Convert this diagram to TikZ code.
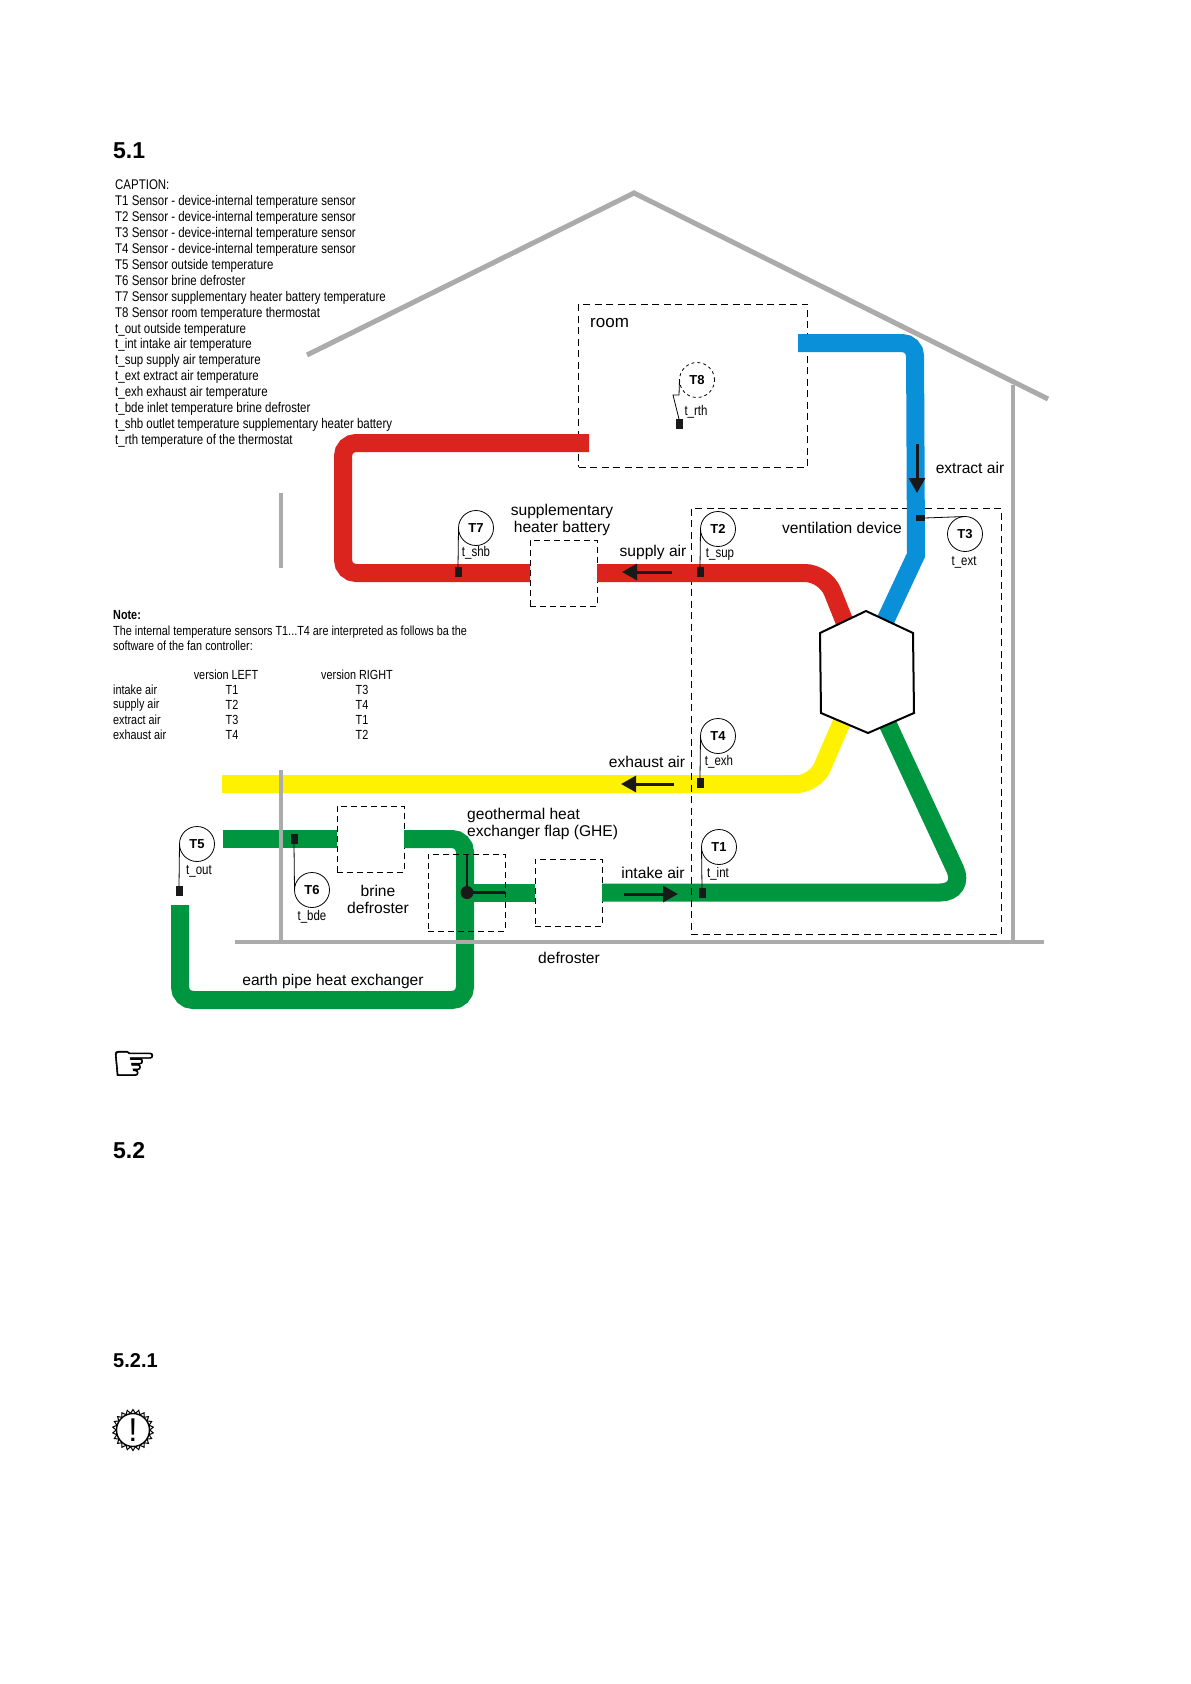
\documentclass[tikz,border=0pt]{standalone}
\usepackage{fontspec}
\usepackage{xcolor}
\setmainfont{Liberation Sans}
\newfontfamily\narrowfont[FakeStretch=0.82]{Liberation Sans}
\newfontfamily\symbolfont[FakeBold=1.2]{DejaVu Sans}
\usetikzlibrary{positioning, arrows.meta, shapes.geometric}

\definecolor{ductred}{HTML}{DC241F}
\definecolor{ductblue}{HTML}{0A8FD9}
\definecolor{ductyellow}{HTML}{FFF200}
\definecolor{ductgreen}{HTML}{009640}
\definecolor{wallgray}{HTML}{ABABAB}

\begin{document}
\begin{tikzpicture}[x=1pt, y=-1pt,
  duct/.style={line width=18pt, rounded corners=13pt},
  wall/.style={line width=5pt, wallgray},
  wallthin/.style={line width=3.5pt, wallgray},
  zonebox/.style={draw, dash pattern=on 7pt off 4.5pt, line width=0.9pt, inner sep=0pt, outer sep=0pt},
  partbox/.style={draw, dash pattern=on 6pt off 4pt, line width=1pt, inner sep=0pt, outer sep=0pt},
  sensor/.style={draw, circle, minimum size=35pt, inner sep=0pt, outer sep=0pt, line width=0.8pt,
              font=\fontsize{13}{13}\selectfont\bfseries},
  pad/.style={fill=black!90, minimum width=7pt, minimum height=10pt, inner sep=0pt, outer sep=0pt},
  leader/.style={line width=0.8pt},
  flow/.style={line width=3pt, black!90, -{Triangle[length=15pt,width=16pt]}},
  flapline/.style={line width=2.6pt, black!90},
  tag/.style={font=\narrowfont\fontsize{14}{14}\selectfont, inner sep=0pt},
  airlabel/.style={font=\fontsize{15.6}{17.5}\selectfont, inner sep=0pt, align=center},
  listtext/.style={font=\narrowfont\fontsize{14}{15.9}\selectfont, inner sep=0pt, align=left},
  tabletext/.style={font=\narrowfont\fontsize{13.2}{15}\selectfont, inner sep=0pt},
  heading/.style={font=\fontsize{23}{23}\selectfont\bfseries, inner sep=0pt, anchor=west}
]
  \useasboundingbox (0,0) rectangle (1191,1684);

  \node[heading] (head51) at (113,151) {5.1};
  \node[heading] (head52) at (113,1151) {5.2};
  \node[heading, font=\fontsize{20}{20}\selectfont\bfseries] (head521) at (113,1361) {5.2.1};

  \node[listtext, anchor=north west] (captionlist) at (115,180) {CAPTION:\\
    T1 Sensor - device-internal temperature sensor\\
    T2 Sensor - device-internal temperature sensor\\
    T3 Sensor - device-internal temperature sensor\\
    T4 Sensor - device-internal temperature sensor\\
    T5 Sensor outside temperature\\
    T6 Sensor brine defroster\\
    T7 Sensor supplementary heater battery temperature\\
    T8 Sensor room temperature thermostat\\
    t\_out outside temperature\\
    t\_int intake air temperature\\
    t\_sup supply air temperature\\
    t\_ext extract air temperature\\
    t\_exh exhaust air temperature\\
    t\_bde inlet temperature brine defroster\\
    t\_shb outlet temperature supplementary heater battery\\
    t\_rth temperature of the thermostat};

  \node[tabletext, anchor=west, font=\narrowfont\fontsize{13.2}{15}\selectfont\bfseries] (notehead) at (113,615) {Note:};
  \node[tabletext, anchor=north west, align=left] (notebody) at (113,625.5) {The internal temperature sensors T1...T4 are interpreted as follows ba the\\software of the fan controller:};
  \node[tabletext] (colleft)  at (226,675) {version LEFT};
  \node[tabletext] (colright) at (357,675) {version RIGHT};
  \node[tabletext, anchor=west] (rowint) at (113,690) {intake air};
  \node[tabletext, anchor=west] (rowsup) at (113,705.5) {supply air};
  \node[tabletext, anchor=west] (rowext) at (113,720) {extract air};
  \node[tabletext, anchor=west] (rowexh) at (113,735) {exhaust air};
  \node[tabletext] (leftint)  at (232,690) {T1};
  \node[tabletext] (leftsup)  at (232,705) {T2};
  \node[tabletext] (leftext)  at (232,720) {T3};
  \node[tabletext] (leftexh)  at (232,735) {T4};
  \node[tabletext] (rightint) at (362,690) {T3};
  \node[tabletext] (rightsup) at (362,705) {T4};
  \node[tabletext] (rightext) at (362,720) {T1};
  \node[tabletext] (rightexh) at (362,735) {T2};

  % boxes
  \node[zonebox, minimum width=229pt, minimum height=163pt] (room) at (693,385.5) {};
  \node[partbox, minimum width=67pt, minimum height=66pt] (battery) at (563.5,573) {};
  \node[partbox, minimum width=67pt, minimum height=66pt] (brine) at (370.5,839) {};
  \node[partbox, minimum width=67pt, minimum height=67pt] (defroster) at (568.5,892.5) {};

  \coordinate (hexT) at (866,611);
  \coordinate (hexUR) at (913,633);
  \coordinate (hexLR) at (914,713);
  \coordinate (hexB) at (868,733);
  \coordinate (hexLL) at (821,713);
  \coordinate (hexUL) at (820,633);
  \coordinate (redport) at (847,628);
  \coordinate (blueport) at (880,632);
  \coordinate (yellowport) at (847,710);
  \coordinate (greenport) at (884,716);
  \coordinate (flapdot) at (467,892.5);
  \coordinate (redend) at (589,443);
  \coordinate (blueend) at (798,343);
  \coordinate (yellowend) at (222,784);
  \coordinate (inletend) at (223,839);
  \coordinate (earthend) at (180,905);

  % ducts
  \draw[duct, ductyellow, rounded corners=18pt] (yellowport) -- (815,784) -- (yellowend);
  \draw[duct, ductgreen, rounded corners=26pt] (defroster.east) -- (966,892.5) -- (greenport);
  \draw[duct, ductgreen] (flapdot) -- (defroster.west);
  \draw[duct, ductgreen] (inletend) -- (brine.west);
  \draw[duct, ductgreen] (brine.east) -- (465,839) -- (465,1000) -- (180,1000) -- (earthend);
  \node[zonebox, minimum width=310pt, minimum height=426pt] (device) at (846,721) {};
  \draw[duct, ductred] (redend) -- (343,443) -- (343,573) -- (battery.west);
  \draw[duct, ductred, rounded corners=20pt] (battery.east) -- (825,573) -- (redport);
  \draw[duct, ductblue] (blueend) -- (915,343) [sharp corners] -- (916,555) -- (blueport);

  \draw[fill=white, line width=2pt] (hexT) -- (hexUR) -- (hexLR) -- (hexB) -- (hexLL) -- (hexUL) -- cycle;

  % house
  \draw[wall] (307,355) -- (634,193) -- (1048,399);
  \draw[wallthin] (1013,385) -- (1013,942);
  \draw[wallthin] (235,942) -- (1044,942);
  \draw[wallthin] (281,770) -- (281,942);
  \draw[wallthin] (281,493) -- (281,568);

  % flap
  \draw[flapline] (flapdot) -- (467,854);
  \draw[flapline] (flapdot) -- (505,892.5);
  \fill[black!90] (flapdot) circle (6.5pt);
  \node[partbox, minimum width=77pt, minimum height=77pt] (flapbox) at (466.5,892.5) {};

  % air direction
  \coordinate (extractfrom) at (917,444);
  \coordinate (extractto) at (917,493);
  \coordinate (supplyfrom) at (672,572);
  \coordinate (supplyto) at (622,572);
  \coordinate (exhaustfrom) at (674,784);
  \coordinate (exhaustto) at (621,784);
  \coordinate (intakefrom) at (624,894);
  \coordinate (intaketo) at (678,894);
  \draw[flow] (extractfrom) -- (extractto);
  \draw[flow] (supplyfrom) -- (supplyto);
  \draw[flow] (exhaustfrom) -- (exhaustto);
  \draw[flow] (intakefrom) -- (intaketo);

  % sensors
  \node[sensor] (T1) at (719,847) {T1};
  \node[pad] (padT1) at (702,893) {};
  \node[tag] (tagT1) at (718,874) {t\_int};
  \draw[leader] (T1.west) -- (padT1.north);

  \node[sensor] (T2) at (718,529) {T2};
  \node[pad] (padT2) at (700,572) {};
  \node[tag] (tagT2) at (720,554) {t\_sup};
  \draw[leader] (T2.west) -- (padT2.north);

  \node[sensor] (T3) at (965,534) {T3};
  \node[pad, minimum width=9pt, minimum height=6pt] (padT3) at (920,518) {};
  \node[tag] (tagT3) at (964,562) {t\_ext};
  \draw[leader] (padT3.east) -- (T3.north);

  \node[sensor] (T4) at (718,736) {T4};
  \node[pad] (padT4) at (700,783) {};
  \node[tag] (tagT4) at (719,762) {t\_exh};
  \draw[leader] (T4.west) -- (padT4.north);

  \node[sensor] (T5) at (197,844) {T5};
  \node[pad] (padT5) at (179,891) {};
  \node[tag] (tagT5) at (199,871) {t\_out};
  \draw[leader] (T5.west) -- (padT5.north);

  \node[sensor] (T6) at (312,890) {T6};
  \node[pad] (padT6) at (294,839) {};
  \node[tag] (tagT6) at (312,917) {t\_bde};
  \draw[leader] (padT6.south) -- (T6.west);

  \node[sensor] (T7) at (476,528) {T7};
  \node[pad] (padT7) at (458,572) {};
  \node[tag] (tagT7) at (476,552.5) {t\_shb};
  \draw[leader] (T7.west) -- (padT7.north);

  \node[sensor, dashed] (T8) at (697,380) {T8};
  \node[pad] (padT8) at (679,424) {};
  \node[tag] (tagT8) at (696,411.5) {t\_rth};
  \draw[leader] (T8.west) -- (679,395) -- (673,395) -- (padT8.north);

  % labels
  \node[airlabel, font=\fontsize{17}{17}\selectfont, anchor=west] (roomtext) at (590,323) {room};
  \node[airlabel] (batterytext) at (562,520) {supplementary\\heater battery};
  \node[airlabel] (supplytext) at (653,552.5) {supply air};
  \node[airlabel] (devicetext) at (842,527.5) {ventilation device};
  \node[airlabel] (extracttext) at (970,468) {extract air};
  \node[airlabel] (exhausttext) at (647,761.5) {exhaust air};
  \node[airlabel] (intaketext) at (653,872.5) {intake air};
  \node[airlabel, anchor=west, align=left] (flaptext) at (467,824) {geothermal heat\\exchanger flap (GHE)};
  \node[airlabel] (brinetext) at (378,899.5) {brine\\defroster};
  \node[airlabel] (defrostertext) at (569,958) {defroster};
  \node[airlabel] (earthtext) at (333,981) {earth pipe heat exchanger};

  % margin icons
  \node[font=\symbolfont\fontsize{52}{52}\selectfont, inner sep=0pt] (handicon) at (134,1066) {☞};
  \node[star, star points=22, star point ratio=1.22, draw, line width=1pt, minimum size=41pt,
        inner sep=0pt] (gearicon) at (133,1430) {};
  \node[circle, draw, fill=white, line width=1.4pt, minimum size=33pt, inner sep=0pt,
        font=\fontsize{33}{33}\selectfont] (warnmark) at (133,1430) {!};
\end{tikzpicture}
\end{document}
